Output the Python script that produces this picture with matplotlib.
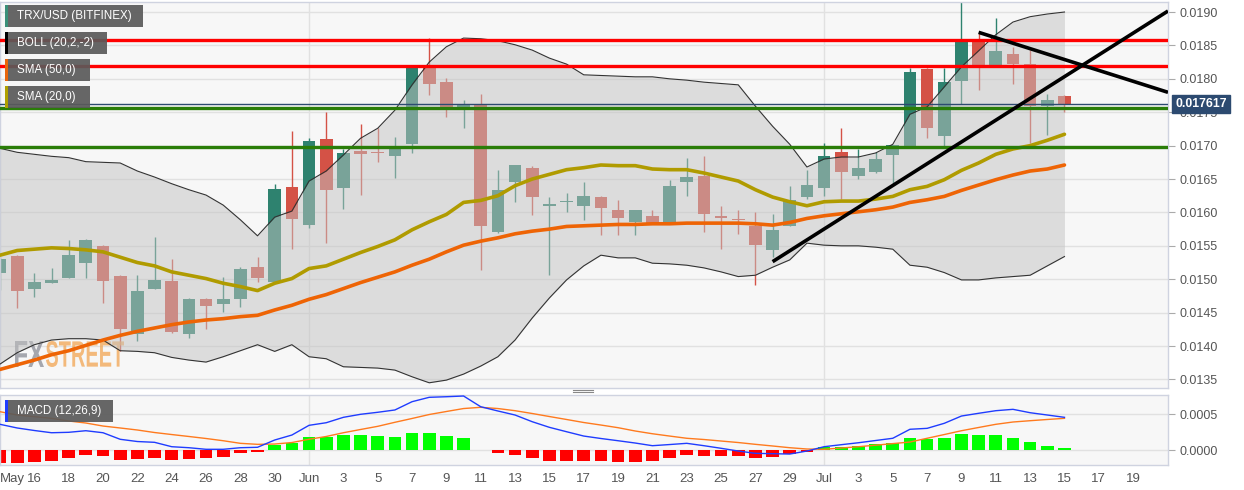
import matplotlib
matplotlib.use("Agg")
import matplotlib.pyplot as plt
from matplotlib.patches import Rectangle, PathPatch
from matplotlib.lines import Line2D
from matplotlib.textpath import TextPath
from matplotlib.font_manager import FontProperties
import matplotlib.transforms as mtransforms

plt.rcParams['font.family'] = ['Liberation Sans', 'DejaVu Sans']

# ---------------- data (day index 0 = May 14) ----------------
days = list(range(63))
opens = [0.01509, 0.01535, 0.01485, 0.01495, 0.01502, 0.01525, 0.01550, 0.01505, 0.01418, 0.01486,
         0.01497, 0.01418, 0.01470, 0.01463, 0.01470, 0.01518, 0.01496, 0.01638, 0.01581, 0.01710,
         0.01637, 0.01692, 0.01691, 0.01684, 0.01702, 0.01817, 0.01795, 0.01753, 0.01761, 0.01571,
         0.01645, 0.01667, 0.01609, 0.01615, 0.01609, 0.01623, 0.01604, 0.01585, 0.01595, 0.01586,
         0.01645, 0.01654, 0.01594, 0.01590, 0.01580, 0.01544, 0.01580, 0.01623, 0.01636, 0.01690,
         0.01655, 0.01661, 0.01686, 0.01698, 0.01814, 0.01715, 0.01797, 0.01858, 0.01821, 0.01837,
         0.01822, 0.01759, 0.01775]
highs = [0.01533, 0.01536, 0.01510, 0.01517, 0.01559, 0.01560, 0.01551, 0.01506, 0.01506, 0.01563,
         0.01530, 0.01472, 0.01472, 0.01504, 0.01519, 0.01534, 0.01643, 0.01722, 0.01711, 0.01751,
         0.01695, 0.01733, 0.01726, 0.01713, 0.01819, 0.01861, 0.01801, 0.01768, 0.01777, 0.01664,
         0.01671, 0.01669, 0.01623, 0.01629, 0.01646, 0.01624, 0.01618, 0.01604, 0.01604, 0.01649,
         0.01681, 0.01684, 0.01610, 0.01604, 0.01600, 0.01597, 0.01639, 0.01663, 0.01704, 0.01726,
         0.01695, 0.01691, 0.01701, 0.01816, 0.01816, 0.01816, 0.01915, 0.01868, 0.01891, 0.01848,
         0.01843, 0.01777, 0.01776]
lows = [0.01484, 0.01457, 0.01474, 0.01494, 0.01502, 0.01502, 0.01464, 0.01392, 0.01408, 0.01485,
        0.01420, 0.01412, 0.01425, 0.01451, 0.01458, 0.01496, 0.01496, 0.01546, 0.01576, 0.01554,
        0.01605, 0.01626, 0.01676, 0.01651, 0.01689, 0.01776, 0.01743, 0.01726, 0.01514, 0.01569,
        0.01616, 0.01596, 0.01506, 0.01601, 0.01589, 0.01566, 0.01566, 0.01566, 0.01584, 0.01586,
        0.01624, 0.01571, 0.01545, 0.01568, 0.01491, 0.01533, 0.01580, 0.01620, 0.01624, 0.01620,
        0.01650, 0.01659, 0.01644, 0.01698, 0.01712, 0.01698, 0.01762, 0.01784, 0.01821, 0.01793,
        0.01704, 0.01716, 0.01751]
closes = [0.01530, 0.01483, 0.01496, 0.01499, 0.01536, 0.01559, 0.01498, 0.01425, 0.01483, 0.01499,
          0.01421, 0.01471, 0.01460, 0.01471, 0.01516, 0.01502, 0.01635, 0.01590, 0.01707, 0.01633,
          0.01689, 0.01688, 0.01689, 0.01695, 0.01817, 0.01793, 0.01753, 0.01763, 0.01579, 0.01634,
          0.01671, 0.01623, 0.01613, 0.01616, 0.01625, 0.01606, 0.01591, 0.01604, 0.01584, 0.01639,
          0.01653, 0.01597, 0.01592, 0.01588, 0.01552, 0.01573, 0.01619, 0.01641, 0.01685, 0.01661,
          0.01667, 0.01680, 0.01701, 0.01810, 0.01727, 0.01795, 0.01857, 0.01821, 0.01842, 0.01822,
          0.01759, 0.01769, 0.017617]

boll_upper = [0.01696, 0.01690, 0.01687, 0.01684, 0.01682, 0.01676, 0.01675, 0.01674, 0.01662, 0.01653,
              0.01643, 0.01634, 0.01626, 0.01611, 0.01589, 0.01565, 0.01593, 0.01602, 0.01647, 0.01662,
              0.01686, 0.01711, 0.01726, 0.01753, 0.01791, 0.01825, 0.01848, 0.01861, 0.01860, 0.01857,
              0.01851, 0.01843, 0.01831, 0.01822, 0.01806, 0.01805, 0.01804, 0.01803, 0.01803, 0.01800,
              0.01798, 0.01795, 0.01793, 0.01791, 0.01759, 0.01729, 0.01702, 0.01668, 0.01680, 0.01683,
              0.01683, 0.01689, 0.01702, 0.01747, 0.01758, 0.01788, 0.01818, 0.01842, 0.01866, 0.01885,
              0.01893, 0.01897, 0.01900]
boll_lower = [0.01373, 0.01390, 0.01402, 0.01409, 0.01411, 0.01411, 0.01409, 0.01393, 0.01392, 0.01390,
              0.01383, 0.01379, 0.01376, 0.01384, 0.01393, 0.01402, 0.01392, 0.01402, 0.01384, 0.01381,
              0.01369, 0.01368, 0.01367, 0.01364, 0.01354, 0.01345, 0.01349, 0.01358, 0.01370, 0.01384,
              0.01409, 0.01442, 0.01472, 0.01499, 0.01520, 0.01536, 0.01532, 0.01532, 0.01524, 0.01523,
              0.01521, 0.01517, 0.01511, 0.01504, 0.01506, 0.01518, 0.01529, 0.01554, 0.01551, 0.01550,
              0.01550, 0.01548, 0.01545, 0.01521, 0.01518, 0.01510, 0.01499, 0.01499, 0.01502, 0.01504,
              0.01506, 0.01520, 0.01534]
sma20 = [0.01536, 0.01543, 0.01545, 0.01547, 0.01546, 0.01544, 0.01541, 0.01533, 0.01525, 0.01520,
         0.01511, 0.01506, 0.01501, 0.01494, 0.01489, 0.01483, 0.01494, 0.01501, 0.01516, 0.01520,
         0.01530, 0.01540, 0.01549, 0.01559, 0.01574, 0.01586, 0.01597, 0.01615, 0.01618, 0.01625,
         0.01640, 0.01650, 0.01657, 0.01664, 0.01667, 0.01671, 0.01670, 0.01670, 0.01665, 0.01664,
         0.01664, 0.01659, 0.01653, 0.01647, 0.01634, 0.01623, 0.01616, 0.01610, 0.01616, 0.01617,
         0.01617, 0.01620, 0.01624, 0.01634, 0.01639, 0.01649, 0.01663, 0.01674, 0.01687, 0.01695,
         0.01700, 0.01708, 0.01717]
sma50 = [0.01365, 0.01372, 0.01379, 0.01387, 0.01393, 0.01401, 0.01409, 0.01416, 0.01422, 0.01427,
         0.01432, 0.01436, 0.01439, 0.01441, 0.01444, 0.01446, 0.01454, 0.01461, 0.01470, 0.01477,
         0.01486, 0.01495, 0.01503, 0.01511, 0.01521, 0.01530, 0.01541, 0.01551, 0.01557, 0.01562,
         0.01568, 0.01572, 0.01575, 0.01579, 0.01580, 0.01581, 0.01582, 0.01582, 0.01583, 0.01583,
         0.01584, 0.01584, 0.01584, 0.01584, 0.01583, 0.01581, 0.01585, 0.01591, 0.01595, 0.01598,
         0.01601, 0.01604, 0.01608, 0.01615, 0.01619, 0.01624, 0.01633, 0.01641, 0.01649, 0.01656,
         0.01662, 0.01665, 0.01671]

macd_line = [0.000357, 0.000306, 0.000271, 0.000240, 0.000246, 0.000268, 0.000240, 0.000149, 0.000118, 0.000107,
             0.000046, 0.000032, 0.000010, 0.000010, 0.000032, 0.000038, 0.000139, 0.000208, 0.000343, 0.000379,
             0.000454, 0.000496, 0.000524, 0.000556, 0.000671, 0.000732, 0.000740, 0.000750, 0.000601, 0.000542,
             0.000486, 0.000393, 0.000315, 0.000254, 0.000194, 0.000160, 0.000129, 0.000097, 0.000060, 0.000076,
             0.000093, 0.000060, 0.000024, -0.000014, -0.000046, -0.000051, -0.000056, -0.000014, 0.000046, 0.000074,
             0.000101, 0.000132, 0.000163, 0.000288, 0.000301, 0.000371, 0.000472, 0.000510, 0.000546, 0.000565,
             0.000518, 0.000486, 0.000454]
signal_line = [0.000532, 0.000486, 0.000463, 0.000440, 0.000403, 0.000375, 0.000333, 0.000306, 0.000278, 0.000243,
               0.000215, 0.000188, 0.000160, 0.000129, 0.000093, 0.000079, 0.000083, 0.000104, 0.000149, 0.000188,
               0.000240, 0.000285, 0.000329, 0.000385, 0.000438, 0.000493, 0.000535, 0.000576, 0.000593, 0.000576,
               0.000546, 0.000507, 0.000465, 0.000424, 0.000382, 0.000347, 0.000310, 0.000264, 0.000226, 0.000194,
               0.000163, 0.000146, 0.000125, 0.000104, 0.000079, 0.000056, 0.000032, 0.000014, 0.000010, 0.000028,
               0.000046, 0.000067, 0.000089, 0.000111, 0.000163, 0.000215, 0.000268, 0.000313, 0.000357, 0.000389,
               0.000407, 0.000424, 0.000440]
macd_hist = [-1.76e-4, -1.76e-4, -1.63e-4, -1.49e-4, -1.15e-4, -0.74e-4, -0.83e-4, -1.39e-4, -1.29e-4, -1.07e-4,
             -1.39e-4, -1.25e-4, -1.11e-4, -0.93e-4, -0.46e-4, -0.28e-4, 0.69e-4, 1.01e-4, 1.76e-4, 1.76e-4,
             2.04e-4, 2.04e-4, 1.94e-4, 1.81e-4, 2.36e-4, 2.36e-4, 1.94e-4, 1.63e-4, 0.02e-4, -0.46e-4,
             -0.69e-4, -1.15e-4, -1.49e-4, -1.57e-4, -1.57e-4, -1.57e-4, -1.62e-4, -1.62e-4, -1.53e-4, -1.15e-4,
             -0.69e-4, -0.83e-4, -0.83e-4, -0.83e-4, -1.07e-4, -0.93e-4, -0.56e-4, -0.24e-4, 0.38e-4, 0.46e-4,
             0.60e-4, 0.79e-4, 0.93e-4, 1.63e-4, 1.49e-4, 1.71e-4, 2.18e-4, 2.08e-4, 2.04e-4, 1.71e-4,
             1.07e-4, 0.60e-4, 0.24e-4]

resistance_levels = [0.01858, 0.01819]
support_levels = [0.01756, 0.01698]
last_price = 0.017617
trend_up = ([45.0, 68.03], [0.015263, 0.019015])
trend_down = ([57.0, 68.03], [0.018696, 0.017798])

xtick_days = list(range(0, 67, 2))
xtick_labels = ["May", "16", "18", "20", "22", "24", "26", "28", "30", "Jun",
                "3", "5", "7", "9", "11", "13", "15", "17", "19", "21", "23", "25", "27", "29",
                "Jul", "3", "5", "7", "9", "11", "13", "15", "17", "19"]
price_ticks = [0.0135, 0.0140, 0.0145, 0.0150, 0.0155, 0.0160, 0.0165, 0.0170, 0.0175, 0.0180, 0.0185, 0.0190]
macd_ticks = [0.0000, 0.0005]

# ---------------- styling ----------------
W, H = 1244, 490
UP = (46/255, 130/255, 111/255)
DOWN = (212/255, 82/255, 70/255)
BG = '#f7f7f7'
GRID = '#e1e1e1'
LABEL = '#555555'

fig = plt.figure(figsize=(W/100, H/100), dpi=100)
fig.patch.set_facecolor('white')

def fx(x):
    return x / W

def fy(y):
    return 1 - y / H

main_top, main_bot = 2, 388
macd_top, macd_bot = 395, 465
right = 1168

ax = fig.add_axes([0, fy(main_bot), fx(right), (main_bot - main_top) / H])
axm = fig.add_axes([0, fy(macd_bot), fx(right), (macd_bot - macd_top) / H])

for a in (ax, axm):
    a.set_facecolor(BG)
    for s in a.spines.values():
        s.set_color('#cfd3e0')
        s.set_linewidth(1)
    a.set_xlim(0, 68.03)
    a.yaxis.tick_right()
    a.tick_params(axis='y', length=5, color='#aaaaaa', labelcolor=LABEL, labelsize=9, pad=3)
    for d in (18, 48):
        a.axvline(d, color=GRID, lw=1, zorder=0)

ax.set_ylim(0.013372, 0.01915)
ax.set_yticks(price_ticks)
ax.set_yticklabels([f"{t:.4f}" for t in price_ticks])
for t in price_ticks:
    ax.axhline(t, color=GRID, lw=1, zorder=0)
ax.set_xticks([])

# watermark (drawn as compressed text paths behind the data)
def watermark(text, x_left, x_right, y_top, y_bot, color):
    tp = TextPath((0, 0), text, size=10, prop=FontProperties(family='Liberation Sans', weight='bold'))
    ext = tp.get_extents()
    sx = (x_right - x_left) / ext.width / W
    sy = (y_bot - y_top) / ext.height / H
    tr = (mtransforms.Affine2D().translate(-ext.x0, -ext.y0).scale(sx, sy)
          .translate(fx(x_left), fy(y_bot)) + fig.transFigure)
    ax.add_patch(PathPatch(tp, transform=tr, fc=color, ec='none', alpha=0.75, zorder=1.5))

watermark("FX", 15, 44, 341, 367, '#8a8c96')
watermark("STREET", 46, 124, 341, 367, '#f2a552')

# candles
for d, o, h, l, c in zip(days, opens, highs, lows, closes):
    col = UP if c >= o else DOWN
    ax.vlines(d, l, h, color=col, lw=1, zorder=1)
    body = max(abs(c - o), 0.00002)
    ax.bar(d, body, bottom=min(o, c), width=0.74, color=col, linewidth=0, zorder=2)

# bollinger band (translucent, over candles)
ax.fill_between(days, boll_lower, boll_upper, color=(195/255, 195/255, 195/255), alpha=0.51, lw=0, zorder=3)
ax.plot(days, boll_upper, color='#333333', lw=0.8, zorder=4)
ax.plot(days, boll_lower, color='#333333', lw=0.8, zorder=4)

# moving averages
ax.plot(days, sma50, color='#ee6405', lw=2.6, zorder=5, solid_capstyle='round')
ax.plot(days, sma20, color='#b09b00', lw=2.6, zorder=5, solid_capstyle='round')

# last price line
ax.axhline(last_price, color='#2c4a70', lw=1, zorder=5)

# support / resistance
for lv in resistance_levels:
    ax.axhline(lv, color='#ff0000', lw=2.4, zorder=6)
for lv in support_levels:
    ax.axhline(lv, color='#2a7d08', lw=2.4, zorder=6)

# trend lines
ax.plot(trend_up[0], trend_up[1], color='black', lw=2.6, zorder=7, solid_capstyle='butt')
ax.plot(trend_down[0], trend_down[1], color='black', lw=2.6, zorder=7, solid_capstyle='butt')

# price tag
trans = mtransforms.blended_transform_factory(ax.transAxes, ax.transData)
ax.text(1.006, last_price, f"{last_price:.6f}", transform=trans, ha='left', va='center',
        color='white', fontsize=8.8, fontweight='bold', clip_on=False, zorder=20,
        bbox=dict(boxstyle='square,pad=0.25', fc='#2c4a70', ec='#2c4a70'))

# MACD panel
axm.set_ylim(-0.000208, 0.000764)
axm.set_yticks(macd_ticks)
axm.set_yticklabels([f"{t:.4f}" for t in macd_ticks])
for t in macd_ticks:
    axm.axhline(t, color=GRID, lw=1, zorder=0)
hist_colors = ['#00ff00' if v >= 0 else '#ff0000' for v in macd_hist]
axm.bar(days, macd_hist, width=0.74, color=hist_colors, lw=0, zorder=2)
axm.plot(days, signal_line, color='#ff7a1e', lw=1, zorder=3)
axm.plot(days, macd_line, color='#1f3cff', lw=1, zorder=4)
axm.set_xticks(xtick_days)
axm.set_xticklabels(xtick_labels)
axm.tick_params(axis='x', length=0, labelcolor=LABEL, labelsize=9.5, pad=6)
first = axm.get_xticklabels()[0]
first.set_ha('left')

# legend boxes
def legend_box(y0, y1, x1, stripe, text):
    fig.add_artist(Rectangle((fx(5), fy(y1)), fx(x1 - 5), (y1 - y0) / H,
                             transform=fig.transFigure, fc='#5a5a5a', ec='none', alpha=0.92, zorder=30))
    fig.add_artist(Rectangle((fx(5), fy(y1)), fx(3), (y1 - y0) / H,
                             transform=fig.transFigure, fc=stripe, ec='none', zorder=31))
    fig.text(fx(17), fy((y0 + y1) / 2), text, color='white', fontsize=8.4, va='center', ha='left', zorder=32)

legend_box(5, 27, 143, '#3a8f78', "TRX/USD (BITFINEX)")
legend_box(32, 54, 107, '#000000', "BOLL (20,2,-2)")
legend_box(59, 81, 90, '#e8650a', "SMA (50,0)")
legend_box(86, 108, 90, '#b0a000', "SMA (20,0)")
legend_box(400, 422, 113, '#1f3cff', "MACD (12,26,9)")

# panel splitter handle
for yy in (389.5, 392):
    fig.add_artist(Line2D([fx(573), fx(593)], [fy(yy), fy(yy)], color='#888888', lw=0.8,
                          transform=fig.transFigure))

fig.savefig("out.png", dpi=100, facecolor='white')
